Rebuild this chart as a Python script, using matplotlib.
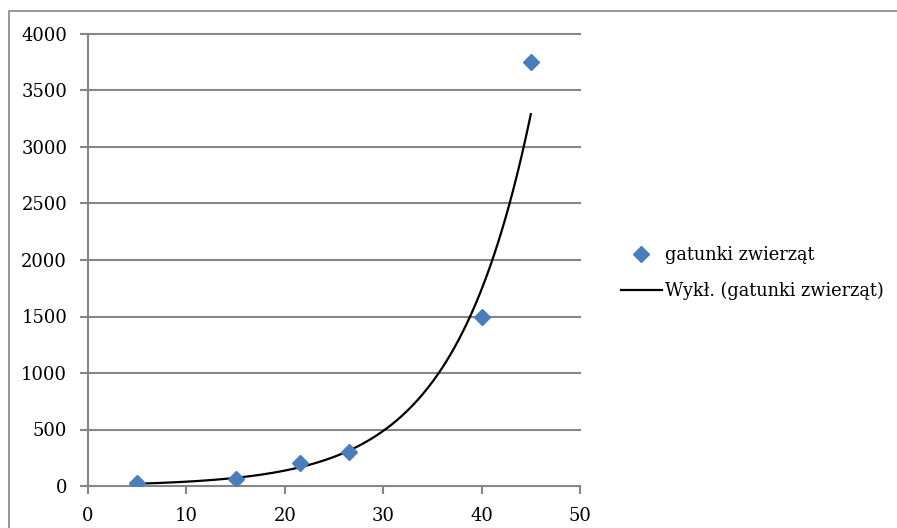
import numpy as np
import matplotlib
matplotlib.use("Agg")
import matplotlib.pyplot as plt
from matplotlib.patches import Rectangle

# data
x_vals = [5, 15, 21.5, 26.5, 40, 45]
species = [30, 60, 205, 300, 1500, 3750]

# exponential trendline as drawn (y = a * exp(b * x))
trend_a = 10.7
trend_b = 0.1273

x_ticks = [0, 10, 20, 30, 40, 50]
y_ticks = [0, 500, 1000, 1500, 2000, 2500, 3000, 3500, 4000]

series_label = "gatunki zwierząt"
trend_label = "Wykł. (gatunki zwierząt)"

grey = "#868686"
blue = "#4A7EBB"

plt.rcParams['font.family'] = ['DejaVu Serif']

fig = plt.figure(figsize=(8.97, 5.28), dpi=100)
ax = fig.add_axes([88 / 897, 1 - 486 / 528, (580 - 88) / 897, (486 - 34) / 528])

# outer chart frame (cut off at right/bottom like the screenshot)
fig.add_artist(Rectangle((9 / 897, -0.2), 1.2, 1.2 - 11 / 528,
                         transform=fig.transFigure, fill=False,
                         edgecolor=grey, linewidth=1.2))

for y in y_ticks[1:]:
    ax.axhline(y, color=grey, linewidth=1.5, zorder=1, clip_on=False)

xs = np.linspace(min(x_vals), max(x_vals), 300)
ax.plot(xs, trend_a * np.exp(trend_b * xs), color='black', linewidth=1.6,
        zorder=3, label=trend_label)
ax.plot(x_vals, species, linestyle='none', marker='D', markersize=8.5,
        color=blue, markeredgecolor=blue, zorder=4, label=series_label)

ax.set_xlim(0, 50)
ax.set_ylim(0, 4000)
ax.set_xticks(x_ticks)
ax.set_yticks(y_ticks)

for side in ['top', 'right']:
    ax.spines[side].set_visible(False)
for side in ['left', 'bottom']:
    ax.spines[side].set_color(grey)
    ax.spines[side].set_linewidth(1.5)

ax.tick_params(axis='y', length=6, width=1.5, color=grey, pad=9, labelsize=13)
ax.tick_params(axis='x', length=6, width=1.5, color=grey, pad=9, labelsize=13)

handles, labels = ax.get_legend_handles_labels()
fig.legend(handles[::-1], labels[::-1], loc='center left',
           bbox_to_anchor=(621 / 897, 1 - 273 / 528), frameon=False,
           fontsize=12.8, handlelength=2.3, handletextpad=0.2,
           labelspacing=1.0, borderaxespad=0, borderpad=0)

fig.savefig("out.png", dpi=100)
